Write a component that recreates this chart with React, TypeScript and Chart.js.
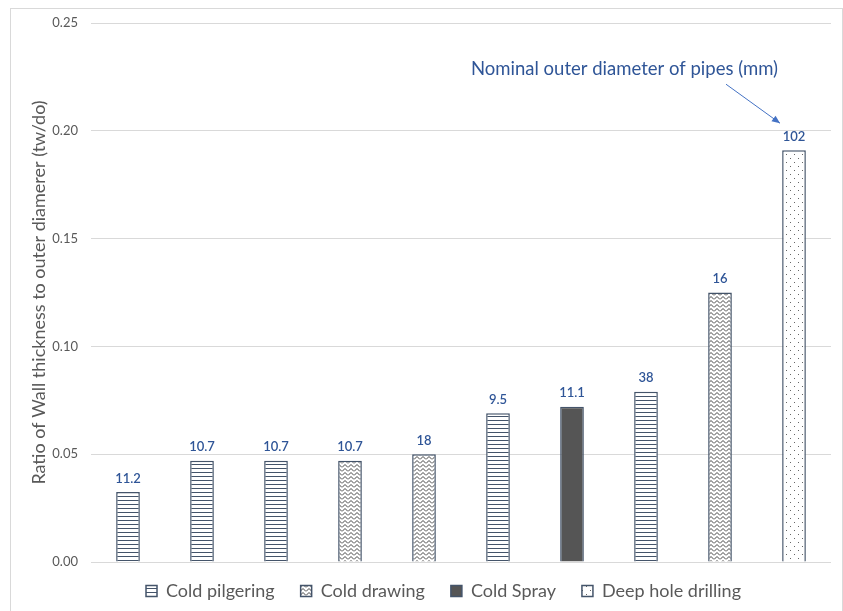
import React, { useEffect, useRef } from "react";
import { Chart, registerables } from "chart.js";

Chart.register(...registerables);

// ---- data ----
const categories = ["P1", "P2", "P3", "P4", "P5", "P6", "P7", "P8", "P9", "P10"];
const ratioValues = [0.0325, 0.047, 0.047, 0.047, 0.05, 0.069, 0.072, 0.079, 0.125, 0.191];
const diameterLabels = ["11.2", "10.7", "10.7", "10.7", "18", "9.5", "11.1", "38", "16", "102"];
const processOf = [
  "Cold pilgering", "Cold pilgering", "Cold pilgering", "Cold drawing", "Cold drawing",
  "Cold pilgering", "Cold Spray", "Cold pilgering", "Cold drawing", "Deep hole drilling",
];
const processes = ["Cold pilgering", "Cold drawing", "Cold Spray", "Deep hole drilling"];
const yTicks = [0, 0.05, 0.1, 0.15, 0.2, 0.25];
const annotationText = "Nominal outer diameter of pipes (mm)";
const yTitle = "Ratio of Wall thickness to outer diamerer (tw/do)";

const FONT = "Lato, 'Noto Sans', sans-serif";
const BORDER = "#44546A";
const BLUE = "#2F5597";
const GRAY = "#595959";

function makePattern(kind: string): CanvasPattern | string {
  if (kind === "Cold Spray") return "#555555";
  const c = document.createElement("canvas");
  const ctx = c.getContext("2d")!;
  if (kind === "Cold pilgering") {
    c.width = 4; c.height = 4;
    ctx.fillStyle = "#ffffff"; ctx.fillRect(0, 0, 4, 4);
    ctx.fillStyle = "#44546A"; ctx.fillRect(0, 0, 4, 1);
  } else if (kind === "Cold drawing") {
    c.width = 6; c.height = 4;
    ctx.fillStyle = "#ffffff"; ctx.fillRect(0, 0, 6, 4);
    ctx.strokeStyle = "#444444"; ctx.lineWidth = 1;
    ctx.beginPath();
    ctx.moveTo(0, 3.5); ctx.lineTo(3, 0.5); ctx.lineTo(6, 3.5);
    ctx.stroke();
  } else {
    c.width = 8; c.height = 8;
    ctx.fillStyle = "#ffffff"; ctx.fillRect(0, 0, 8, 8);
    ctx.fillStyle = "#666666";
    ctx.fillRect(2, 2, 1, 1);
    ctx.fillRect(6, 6, 1, 1);
  }
  return ctx.createPattern(c, "repeat")!;
}

const framePlugin = {
  id: "frame",
  beforeDraw(chart: any) {
    const ctx = chart.ctx;
    ctx.save();
    ctx.strokeStyle = "#D9D9D9";
    ctx.lineWidth = 1;
    ctx.strokeRect(10.5, 8.5, chart.width - 11, chart.height - 8);
    ctx.restore();
  },
  afterLayout(chart: any) {
    const lg = chart.legend;
    if (!lg) return;
    // place the legend row just under the plot (Excel-like spacing)
    lg.top = chart.chartArea.bottom - 6;
    lg.bottom = lg.top + 60;
    lg.left += 18;
    lg.right += 18;
  },
};

const labelPlugin = {
  id: "barLabels",
  afterDatasetsDraw(chart: any) {
    const ctx = chart.ctx;
    const xs = chart.scales.x;
    const ys = chart.scales.y;
    ctx.save();
    ctx.fillStyle = BLUE;
    ctx.font = `600 13px ${FONT}`;
    ctx.textAlign = "center";
    ctx.textBaseline = "bottom";
    ratioValues.forEach((v, i) => {
      const x = xs.getPixelForValue(i);
      const y = ys.getPixelForValue(v);
      ctx.fillText(diameterLabels[i], x, y - 7);
    });
    // annotation
    const last = ratioValues.length - 1;
    const bx = xs.getPixelForValue(last);
    const labelTop = ys.getPixelForValue(ratioValues[last]) - 20;
    ctx.font = `18.5px ${FONT}`;
    ctx.textAlign = "right";
    ctx.textBaseline = "middle";
    ctx.fillText(annotationText, bx - 16, labelTop - 61);
    // arrow
    const x0 = bx - 68, y0 = labelTop - 46;
    const x1 = bx - 14, y1 = labelTop - 7;
    ctx.strokeStyle = "#4472C4";
    ctx.fillStyle = "#4472C4";
    ctx.lineWidth = 1;
    ctx.beginPath();
    ctx.moveTo(x0, y0);
    ctx.lineTo(x1, y1);
    ctx.stroke();
    const ang = Math.atan2(y1 - y0, x1 - x0);
    const len = 8, w = 3.5;
    ctx.beginPath();
    ctx.moveTo(x1, y1);
    ctx.lineTo(x1 - len * Math.cos(ang) + w * Math.sin(ang), y1 - len * Math.sin(ang) - w * Math.cos(ang));
    ctx.lineTo(x1 - len * Math.cos(ang) - w * Math.sin(ang), y1 - len * Math.sin(ang) + w * Math.cos(ang));
    ctx.closePath();
    ctx.fill();
    ctx.restore();
  },
};

export default function App() {
  const ref = useRef<HTMLCanvasElement>(null);
  useEffect(() => {
    if (!ref.current) return;
    const datasets = processes.map((p) => ({
      label: p,
      data: ratioValues.map((v, i) => (processOf[i] === p ? v : null)),
      backgroundColor: makePattern(p),
      borderColor: BORDER,
      borderWidth: 1.5,
      grouped: false,
      barPercentage: 0.32,
      categoryPercentage: 1,
    }));
    const chart = new Chart(ref.current, {
      type: "bar",
      data: { labels: categories, datasets },
      plugins: [framePlugin, labelPlugin],
      options: {
        animation: false,
        responsive: false,
        layout: { padding: { left: 20, right: 12, top: 23, bottom: 3 } },
        plugins: {
          tooltip: { enabled: false },
          legend: {
            position: "bottom",
            maxHeight: 36,
            labels: {
              color: GRAY,
              font: { family: FONT, size: 18 },
              boxWidth: 11,
              boxHeight: 11,
              padding: 26,
            },
          },
        },
        scales: {
          x: {
            grid: { display: false },
            border: { display: false },
            ticks: { display: false },
            afterFit: (s: any) => { s.height = 10; },
          },
          y: {
            min: 0,
            max: 0.25,
            afterBuildTicks: (s: any) => { s.ticks = yTicks.map((v) => ({ value: v })); },
            grid: { color: "#D9D9D9", drawTicks: false, lineWidth: 1 },
            border: { display: false },
            ticks: {
              color: GRAY,
              font: { family: FONT, size: 13 },
              padding: 13,
              callback: (v: any) => Number(v).toFixed(2),
            },
            title: {
              display: true,
              text: yTitle,
              color: GRAY,
              font: { family: FONT, size: 18 },
              padding: { top: 8, bottom: 0 },
            },
            afterFit: (s: any) => { s.width = 71; },
          },
        },
      },
    });
    return () => chart.destroy();
  }, []);
  return (
    <div style={{ position: "fixed", left: 0, top: 0, width: 843, height: 611, background: "#fff" }}>
      <canvas ref={ref} width={843} height={611} />
    </div>
  );
}
